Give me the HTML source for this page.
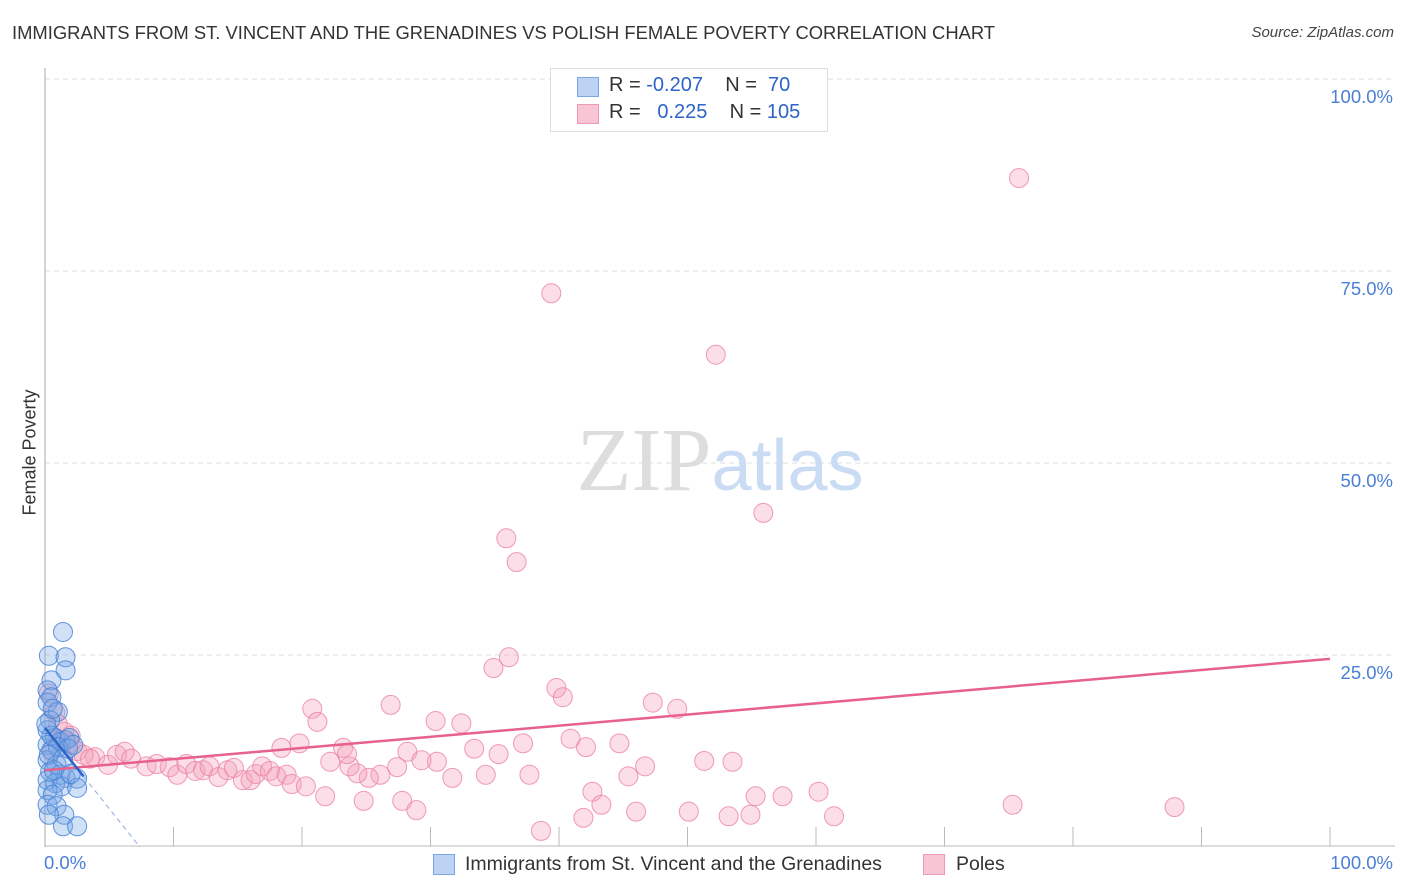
<!DOCTYPE html>
<html><head><meta charset="utf-8"><style>
body{margin:0;background:#fff;font-family:"Liberation Sans",sans-serif}
#wrap{position:relative;width:1406px;height:892px;overflow:hidden}
.t{position:absolute;white-space:nowrap}
</style></head><body>
<div id="wrap">
<div class="t" style="left:12px;top:22px;font-size:18.4px;color:#333">IMMIGRANTS FROM ST. VINCENT AND THE GRENADINES VS POLISH FEMALE POVERTY CORRELATION CHART</div>
<div class="t" style="right:12px;top:24px;font-size:15px;color:#444;font-style:italic">Source: ZipAtlas.com</div>
<svg id="svg" width="1406" height="892" style="position:absolute;left:0;top:0"></svg>
</div>
<script>
const blueX=[1.4,0.3,1.6,1.6,0.5,0.2,0.5,0.2,1.0,0.4,0.2,0.8,1.2,1.6,1.9,0.2,0.5,0.2,0.9,0.4,1.2,1.6,0.2,0.8,1.3,2.5,2.5,0.2,0.6,0.2,0.9,1.5,0.3,1.4,2.5,0.5,1.0,0.3,1.4,0.7,2.0,1.8,0.1,0.6,2.2];
const blueY=[28.0,24.9,24.7,23.0,21.7,20.4,19.5,18.8,17.6,16.5,15.2,14.2,13.7,13.9,14.2,13.3,12.6,11.3,10.7,9.8,9.4,9.0,8.7,8.3,7.9,8.9,7.7,7.4,6.8,5.5,5.3,4.2,4.2,2.7,2.7,14.5,13.0,12.0,11.5,10.0,9.5,12.8,16.0,18.0,13.3];
const pinkX=[75.8,39.4,52.2,55.9,35.9,36.7,36.1,34.9,39.8,40.3,47.3,49.2,26.9,20.8,21.2,30.4,32.4,37.2,40.9,42.1,44.7,33.4,35.3,28.2,19.8,18.4,23.2,51.3,53.5,46.7,45.4,37.7,34.3,31.7,21.8,24.8,
3.9,4.9,5.6,6.2,6.7,7.9,8.7,9.7,10.3,11.0,11.7,12.3,12.8,13.5,14.2,14.7,15.4,16.0,16.4,16.9,17.5,18.0,18.8,19.2,20.3,
0.3,0.8,1.0,1.5,2.0,2.5,3.0,1.0,2.0,0.5,3.5,
30.5,29.3,27.4,26.1,25.2,24.3,22.2,23.7,23.5,27.8,28.9,42.6,43.3,46.0,50.1,53.2,54.9,57.4,55.3,60.2,61.4,75.3,87.9,38.6,41.9];
const pinkY=[87.1,72.1,64.1,43.5,40.2,37.1,24.7,23.3,20.7,19.5,18.8,18.0,18.5,18.0,16.3,16.4,16.1,13.5,14.1,13.0,13.5,12.8,12.1,12.4,13.5,12.9,12.9,11.2,11.1,10.5,9.2,9.4,9.4,9.0,6.6,6.0,
11.7,10.7,12.0,12.4,11.5,10.5,10.8,10.4,9.4,10.8,9.9,10.0,10.5,9.1,10.0,10.3,8.7,8.7,9.5,10.5,9.9,9.2,9.4,8.2,7.9,
20,17.5,16,15,13.5,12.5,12,14,14.5,12.5,11.5,
11.1,11.3,10.4,9.4,9.0,9.6,11.1,10.5,12.1,6.0,4.8,7.2,5.5,4.6,4.6,4.0,4.2,6.6,6.6,7.2,4.0,5.5,5.2,2.1,3.8];
const yTicks=[25,50,75,100];
const yTickLabels=["25.0%","50.0%","75.0%","100.0%"];
const pinkTrend=[10.0,24.5];
const blueTrend=[15.5,-2.1];

const svg=document.getElementById('svg');const NS='http://www.w3.org/2000/svg';
const X=v=>45+v*12.85, Y=v=>847-v*7.68;
function el(t,a){const e=document.createElementNS(NS,t);for(const k in a)e.setAttribute(k,a[k]);svg.appendChild(e);return e;}
yTicks.forEach((t,i)=>{
 const g=el('line',{x1:45,x2:1395,y1:Y(t),y2:Y(t),stroke:'#ddd','stroke-dasharray':'5,4'});
 
 
 const tx=el('text',{x:1393,y:Y(t)+24,'text-anchor':'end','font-size':18.5,fill:'#4a7fd6','font-family':'Liberation Sans'});
 tx.textContent=yTickLabels[i];
 
 
});
const ax=el('line',{x1:45,x2:45,y1:68,y2:847,stroke:'#aaa'});


const bx=el('line',{x1:45,x2:1395,y1:846,y2:846,stroke:'#bbb'});


for(let i=1;i<=10;i++){const tk=el('line',{x1:X(i*10),x2:X(i*10),y1:827,y2:846,stroke:'#bbb'});
 
 }
const wm=el('text',{x:720,y:490,'text-anchor':'middle','font-size':90,'font-family':'Liberation Serif',fill:'#ddd'});
wm.innerHTML='ZIP<tspan fill="#c9dcf3" font-family="Liberation Sans" font-size="72">atlas</tspan>';


pinkX.forEach((x,i)=>{const c=el('circle',{cx:X(x),cy:Y(pinkY[i]),r:9.5,fill:'rgba(244,160,187,0.35)',stroke:'rgba(236,130,165,0.8)','stroke-width':1});
 
 });
blueX.forEach((x,i)=>{const c=el('circle',{cx:X(x),cy:Y(blueY[i]),r:9.5,fill:'rgba(120,165,230,0.35)',stroke:'rgba(70,130,215,0.85)','stroke-width':1});
 
 });
const pl=el('line',{x1:X(0),y1:Y(pinkTrend[0]),x2:X(100),y2:Y(pinkTrend[1]),stroke:'#e8608c','stroke-width':2.5});


const b1=el('line',{x1:X(0),y1:Y(blueTrend[0]),x2:X(3),y2:Y(blueTrend[0]+blueTrend[1]*3),stroke:'#2c64c8','stroke-width':2.5});


const xe=-blueTrend[0]/blueTrend[1];
const b2=el('line',{x1:X(3),y1:Y(blueTrend[0]+blueTrend[1]*3),x2:X(xe),y2:Y(0),stroke:'#8aa8d8','stroke-width':1,'stroke-dasharray':'5,4'});


</script>
<div class="t" style="left:-30px;top:445px;font-size:18px;color:#333;transform:rotate(-90deg);transform-origin:center;width:120px;text-align:center">Female Poverty</div>
<div class="t" style="left:44px;top:852px;font-size:18.5px;color:#4a7fd6">0.0%</div>
<div class="t" style="right:13px;top:852px;font-size:18.5px;color:#4a7fd6">100.0%</div>
<div style="position:absolute;left:550px;top:68px;width:276px;height:62px;border:1px solid #ddd;background:#fff;font-size:20px;color:#333">
 <div style="position:absolute;left:26px;top:8px;width:20px;height:18px;background:#bcd3f3;border:1px solid #7aa6e2"></div>
 <div class="t" style="left:58px;top:5px">R = <span style="color:#2c64c8">-0.207</span>&nbsp;&nbsp;&nbsp; N = &nbsp;<span style="color:#2c64c8">70</span></div>
 <div style="position:absolute;left:26px;top:35px;width:20px;height:18px;background:#f8c5d5;border:1px solid #ee9ab6"></div>
 <div class="t" style="left:58px;top:32px">R = &nbsp;&nbsp;<span style="color:#2c64c8">0.225</span>&nbsp;&nbsp;&nbsp; N = <span style="color:#2c64c8">105</span></div>
</div>
<div style="position:absolute;left:433px;top:853px;font-size:19.5px;color:#333">
 <span style="position:absolute;left:0;top:1px;width:20px;height:19px;background:#bcd3f3;border:1px solid #7aa6e2"></span>
 <span class="t" style="left:32px;top:0">Immigrants from St. Vincent and the Grenadines</span>
 <span style="position:absolute;left:490px;top:1px;width:20px;height:19px;background:#f8c5d5;border:1px solid #ee9ab6"></span>
 <span class="t" style="left:523px;top:0">Poles</span>
</div>
</body></html>
